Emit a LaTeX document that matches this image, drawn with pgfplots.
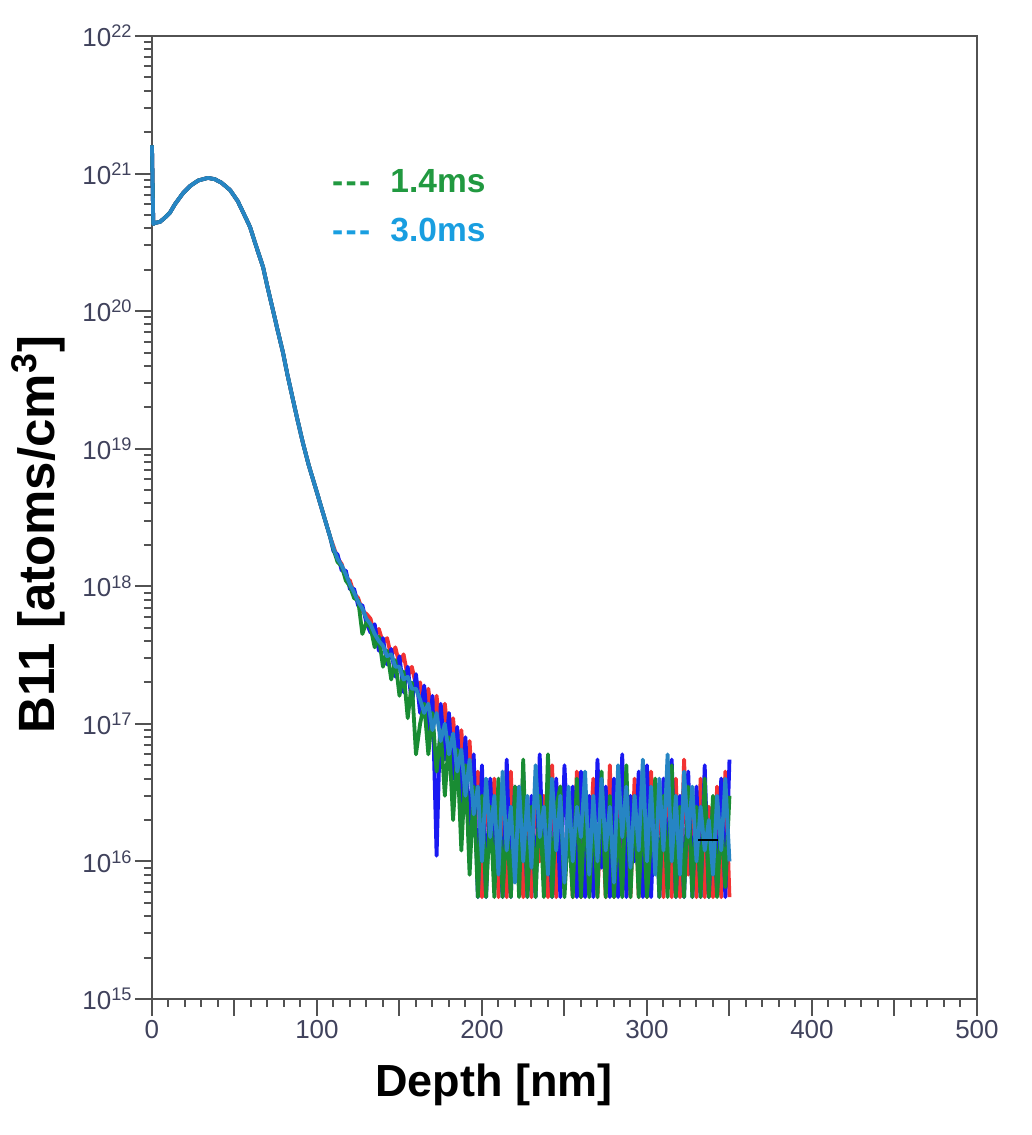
\documentclass[border=0pt]{standalone}
\usepackage{pgfplots}
\pgfplotsset{compat=1.18}
\usepackage{pgfplotstable}
\usepackage{fontspec}
\setmainfont{Liberation Sans}
\definecolor{cred}{rgb}{0.95,0.2,0.2}
\definecolor{cblue}{rgb}{0.1,0.1,0.95}
\definecolor{cgreen}{rgb}{0.1,0.55,0.2}
\definecolor{clblue}{rgb}{0.15,0.52,0.77}
\definecolor{lgreen}{rgb}{0.13,0.6,0.25}
\definecolor{llblue}{rgb}{0.1,0.62,0.88}
\definecolor{ticklab}{rgb}{0.25,0.26,0.36}
\definecolor{axgray}{rgb}{0.32,0.32,0.32}

\pgfplotstableread{
x y
0 1.6e21
0.8 4.3e20
1.8 4.38e20
4.8 4.45e20
8 4.8e20
10.9 5.2e20
14 6.0e20
18.8 7.2e20
23 8.1e20
28 8.9e20
33.9 9.3e20
38 9.1e20
42 8.6e20
47.3 7.6e20
52 6.3e20
56 5.0e20
59.4 4.1e20
63 3.0e20
67.3 2.1e20
70 1.5e20
73.3 1.02e20
76 7.4e19
79.4 5.0e19
82 3.5e19
85.5 2.26e19
88 1.66e19
91.5 1.1e19
95 7.6e18
100 4.8e18
104 3.3e18
107.9 2.3e18
}\smoothpart

% noisy tails: x red blue green lightblue
\pgfplotstableread{
x r b g l
107.9 2.3e18 2.3e18 2.3e18 2.3e18
110 1.95e18 1.8e18 1.85e18 1.9e18
112.5 1.6e18 1.7e18 1.5e18 1.58e18
115 1.45e18 1.3e18 1.4e18 1.42e18
117.5 1.15e18 1.3e18 1.1e18 1.22e18
120 1.1e18 9.5e17 1.0e18 1.03e18
122.5 8.8e17 9.6e17 8.2e17 9.0e17
125 8.2e17 7.2e17 7.9e17 7.7e17
127.5 6.6e17 7.3e17 4.5e17 6.9e17
130 6.3e17 5.4e17 5.5e17 5.8e17
132.5 5.8e17 4.6e17 5.0e17 5.3e17
135 4.3e17 5.3e17 3.6e17 4.5e17
137.5 4.9e17 3.4e17 4.3e17 4.0e17
140 3.9e17 4.2e17 2.6e17 3.7e17
142.5 4.2e17 2.7e17 3.4e17 3.1e17
145 3.1e17 3.5e17 2.1e17 3.2e17
147.5 3.6e17 2.2e17 2.9e17 2.6e17
150 2.7e17 3.1e17 1.6e17 2.6e17
152.5 3.2e17 1.7e17 2.4e17 2.1e17
155 2.2e17 2.6e17 1.1e17 2.2e17
157.5 2.6e17 1.4e17 2.0e17 1.8e17
160 1.9e17 2.3e17 6.0e16 1.8e17
162.5 2.0e17 1.2e17 1.0e17 1.5e17
165 1.3e17 1.9e17 1.4e17 1.2e17
167.5 1.8e17 8.0e16 6.0e16 1.4e17
170 1.0e17 1.6e17 1.2e17 9.0e16
172.5 1.6e17 1.1e16 4.5e16 1.2e17
175 8.5e16 1.4e17 9.0e16 7.5e16
177.5 1.4e17 5.5e16 3.0e16 1.0e17
180 7.0e16 1.2e17 8.0e16 6.0e16
182.5 1.1e17 4.0e16 2.0e16 8.5e16
185 5.0e16 9.5e16 6.5e16 4.5e16
187.5 9.0e16 2.5e16 1.2e16 6.5e16
190 3.5e16 8.0e16 5.0e16 3.0e16
192.5 7.5e16 1.5e16 8.0e15 5.5e16
195 2.2e16 6.0e16 3.5e16 2.2e16
197.5 4.5e16 5.5e15 5.5e15 3.5e16
200 5.5e15 5.0e16 3.0e16 1.0e16
202.5 3.5e16 5.5e15 5.5e15 4.0e16
205 1.2e16 4.0e16 2.5e16 1.5e16
207.5 4.0e16 8.0e15 5.5e15 3.0e16
210 5.5e15 3.0e16 4.0e16 8.0e15
212.5 3.0e16 5.5e15 5.5e15 4.5e16
215 5.5e15 5.5e16 2.0e16 1.2e16
217.5 4.5e16 5.5e15 5.5e15 2.5e16
220 8.0e15 3.5e16 3.5e16 7.0e15
222.5 3.5e16 1.0e16 5.5e15 3.5e16
225 5.5e15 4.5e16 5.5e16 1.0e16
227.5 2.5e16 5.5e15 5.5e15 3.0e16
230 5.5e15 3.0e16 2.5e16 9.0e15
232.5 4.0e16 5.5e15 5.5e15 5.0e16
235 1.0e16 6.0e16 3.0e16 1.5e16
237.5 3.0e16 7.0e15 5.5e15 2.5e16
240 5.5e15 2.5e16 6.0e16 8.0e15
242.5 5.0e16 5.5e15 5.5e15 4.0e16
245 5.5e15 4.0e16 2.5e16 1.2e16
247.5 3.5e16 5.5e15 3.5e16 3.0e16
250 7.0e15 5.0e16 5.5e15 7.0e15
252.5 2.5e16 1.2e16 2.0e16 3.5e16
255 5.5e15 3.5e16 5.5e15 1.0e16
257.5 4.5e16 5.5e15 4.0e16 2.5e16
260 5.5e15 4.5e16 5.5e15 1.5e16
262.5 3.0e16 5.5e15 3.0e16 4.5e16
265 1.2e16 3.0e16 5.5e15 8.0e15
267.5 4.0e16 5.5e15 2.5e16 3.0e16
270 5.5e15 5.5e16 5.5e15 1.0e16
272.5 2.8e16 9.0e15 4.5e16 4.0e16
275 5.5e15 3.5e16 5.5e15 1.2e16
277.5 5.0e16 5.5e15 3.0e16 2.5e16
280 5.5e15 4.0e16 5.5e15 7.0e15
282.5 3.5e16 5.5e15 2.0e16 5.0e16
285 9.0e15 6.0e16 5.5e15 1.5e16
287.5 2.5e16 5.5e15 5.0e16 3.5e16
290 5.5e15 3.0e16 5.5e15 9.0e15
292.5 4.0e16 1.0e16 3.0e16 3.0e16
295 5.5e15 4.5e16 5.5e15 1.2e16
297.5 3.0e16 5.5e15 2.5e16 5.5e16
300 5.5e15 5.0e16 5.5e15 1.0e16
302.5 4.5e16 5.5e15 1.5e16 3.5e16
305 1.0e16 3.5e16 4.0e16 8.0e15
307.5 3.5e16 5.5e15 5.5e15 4.0e16
310 5.5e15 4.0e16 3.0e16 1.2e16
312.5 2.5e16 8.0e15 5.5e15 6.0e16
315 5.5e15 5.5e16 5.0e16 1.0e16
317.5 4.0e16 5.5e15 5.5e15 3.0e16
320 5.5e15 3.0e16 2.5e16 8.0e15
322.5 5.5e16 5.5e15 5.5e15 4.5e16
325 8.0e15 4.5e16 3.5e16 1.5e16
327.5 3.0e16 5.5e15 5.5e15 3.5e16
330 5.5e15 3.5e16 2.5e16 1.0e16
332.5 4.0e16 5.5e15 5.5e15 2.5e16
335 5.5e15 5.0e16 4.0e16 1.2e16
337.5 2.5e16 5.5e15 5.5e15 2.0e16
340 5.5e15 2.5e16 3.0e16 8.0e15
342.5 3.5e16 6.0e15 5.5e15 3.0e16
345 5.5e15 4.0e16 2.0e16 1.2e16
347.5 4.5e16 5.5e15 6.5e15 4.0e16
350 5.5e15 5.5e16 3.0e16 1.0e16
}\noisepart

\begin{document}
\begin{tikzpicture}
\begin{axis}[
  scale only axis,
  width=412.5pt, height=481.5pt,
  xmin=0, xmax=500,
  ymode=log, ymin=1e15, ymax=1e22,
  clip=false,
  tick pos=left,
  tick align=outside,
  xtick={0,100,200,300,400,500},
  minor x tick num=9,
  extra x ticks={50,150,250,350,450},
  extra x tick labels={},
  ytick={1e15,1e16,1e17,1e18,1e19,1e20,1e21,1e22},
  yticklabels={10\textsuperscript{15},10\textsuperscript{16},10\textsuperscript{17},10\textsuperscript{18},10\textsuperscript{19},10\textsuperscript{20},10\textsuperscript{21},10\textsuperscript{22}},
  major tick length=8.5pt,
  minor tick length=4pt,
  axis line style={draw=axgray, line width=1pt},
  every tick/.style={draw=axgray, line width=1pt},
  /pgf/number format/assume math mode=true,
  tick label style={font=\fontsize{13}{15}\selectfont, text=ticklab},
  yticklabel style={inner sep=1pt},
  xticklabel style={inner sep=2pt},
  every axis plot/.append style={line width=1.9pt, no markers, line join=round},
]
\addplot[cred] table[x=x,y=y] {\smoothpart};
\addplot[cred] table[x=x,y=r] {\noisepart};
\addplot[cblue] table[x=x,y=y] {\smoothpart};
\addplot[cblue] table[x=x,y=b] {\noisepart};
\addplot[cgreen] table[x=x,y=y] {\smoothpart};
\addplot[cgreen] table[x=x,y=g] {\noisepart};
\addplot[clblue] table[x=x,y=y] {\smoothpart};
\addplot[clblue] table[x=x,y=l] {\noisepart};
\addplot[black, line width=1pt] coordinates {(331,1.44e16) (343,1.44e16)};
\node[anchor=west, inner sep=0pt, font=\bfseries\fontsize{16.75}{20}\selectfont, text=lgreen] at (axis cs:109,8.8e20) {-\hspace{0.07em}-\hspace{0.07em}-\hspace{0.6em}1.4ms};
\node[anchor=west, inner sep=0pt, font=\bfseries\fontsize{16.75}{20}\selectfont, text=llblue] at (axis cs:109,3.9e20) {-\hspace{0.07em}-\hspace{0.07em}-\hspace{0.6em}3.0ms};
\node[font=\bfseries\fontsize{22.5}{26}\selectfont] at (rel axis cs:0.4145,-0.0893) {Depth [nm]};
\node[rotate=90, font=\bfseries\fontsize{25.5}{30}\selectfont] at (rel axis cs:-0.138,0.482) {B11 [atoms/cm\textsuperscript{3}]};
\path (rel axis cs:-0.1842,-0.1412) rectangle (rel axis cs:1.0655,1.0374);
\end{axis}
\end{tikzpicture}
\end{document}
